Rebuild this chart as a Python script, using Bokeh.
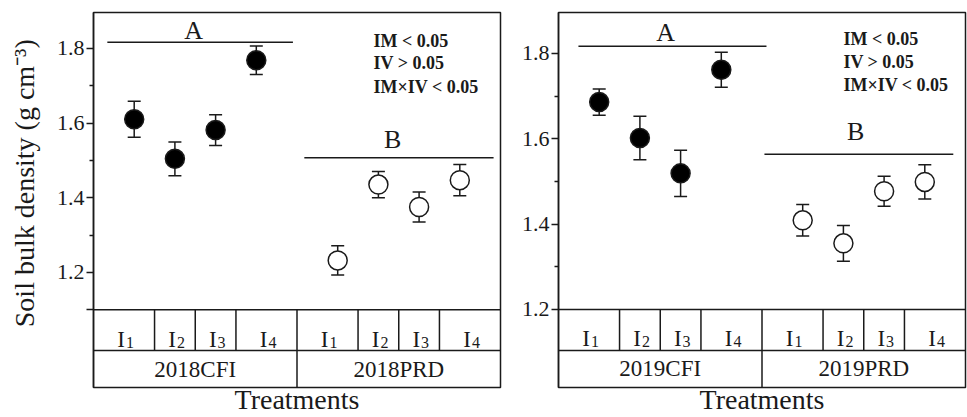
from bokeh.plotting import figure
from bokeh.layouts import row
from bokeh.models import Range1d, FixedTicker, Whisker, TeeHead, ColumnDataSource
from bokeh.core.properties import value
from bokeh.embed import file_html
from bokeh.resources import INLINE

FONT = "Liberation Serif"
INK = "#1a1a1a"

# ---------------- data ----------------
treatments = ["I", "I", "I", "I"]
treatment_subs = ["1", "2", "3", "4"]
groups_2018 = ["2018CFI", "2018PRD"]
groups_2019 = ["2019CFI", "2019PRD"]

bd_2018_cfi = [1.610, 1.504, 1.581, 1.768]
se_2018_cfi = [0.048, 0.045, 0.041, 0.038]
bd_2018_prd = [1.232, 1.435, 1.375, 1.447]
se_2018_prd = [0.039, 0.035, 0.040, 0.042]

bd_2019_cfi = [1.686, 1.602, 1.519, 1.762]
se_2019_cfi = [0.031, 0.051, 0.054, 0.041]
bd_2019_prd = [1.409, 1.355, 1.477, 1.499]
se_2019_prd = [0.037, 0.042, 0.035, 0.040]

letters = ["A", "B"]
stats_text = ["IM < 0.05", "IV > 0.05", "IM\u00d7IV < 0.05"]

# significance group line levels (data units)
sig_2018 = [1.816, 1.507]
sig_2019 = [1.817, 1.564]

y_label = "\u2003\u2009Soil bulk density (g cm\u207b\u00b3)"
x_label = "Treatments"


def make_panel(groups, cfi, cfi_se, prd, prd_se, sig, y_bottom, y_top, ppu,
               width, border_left, border_right, major, minor, show_ylabel,
               lines_x, letter_pos, stat_x, stat_y, tick_overrides):
    row1 = 41.0 / ppu
    row2 = 37.0 / ppu
    frame_bottom = y_bottom - row1 - row2
    p = figure(width=width, height=417, output_backend="svg", toolbar_location=None,
               x_range=Range1d(0, 10), y_range=Range1d(frame_bottom, y_top),
               min_border_left=border_left, min_border_right=border_right,
               min_border_top=12, min_border_bottom=30)
    p.background_fill_color = "white"
    p.border_fill_color = "white"
    p.outline_line_color = INK
    p.outline_line_width = 1.5
    p.xgrid.visible = False
    p.ygrid.visible = False

    # y axis
    ya = p.yaxis[0]
    ya.ticker = FixedTicker(ticks=major, minor_ticks=minor)
    ya.major_label_overrides = tick_overrides
    ya.major_label_text_font = FONT
    ya.major_label_text_font_size = "22px"
    ya.major_label_text_color = INK
    ya.major_label_standoff = 2
    ya.major_tick_out = 7
    ya.major_tick_in = 0
    ya.minor_tick_out = 4
    ya.minor_tick_in = 0
    ya.major_tick_line_color = INK
    ya.minor_tick_line_color = INK
    ya.major_tick_line_width = 1.5
    ya.minor_tick_line_width = 1.5
    ya.axis_line_color = INK
    ya.axis_line_width = 1.5
    if show_ylabel:
        ya.axis_label = y_label
        ya.axis_label_text_font = FONT
        ya.axis_label_text_font_size = "28px"
        ya.axis_label_text_font_style = "normal"
        ya.axis_label_text_color = INK
        ya.axis_label_standoff = 14

    # x axis (label only)
    xa = p.xaxis[0]
    xa.ticker = FixedTicker(ticks=[])
    xa.axis_line_color = None
    xa.major_tick_line_color = None
    xa.minor_tick_line_color = None
    xa.major_label_text_font_size = "0px"
    xa.major_label_standoff = 0
    xa.axis_label = x_label
    xa.axis_label_text_font = FONT
    xa.axis_label_text_font_size = "28px"
    xa.axis_label_text_font_style = "normal"
    xa.axis_label_text_color = INK
    xa.axis_label_standoff = -4

    # positions
    xs_cfi = [i + 1 for i in range(len(cfi))]
    xs_prd = [i + 6 for i in range(len(prd))]

    # error bars
    for xs, ys, es in ((xs_cfi, cfi, cfi_se), (xs_prd, prd, prd_se)):
        src = ColumnDataSource(dict(x=xs, upper=[a + b for a, b in zip(ys, es)],
                                    lower=[a - b for a, b in zip(ys, es)]))
        w = Whisker(base="x", upper="upper", lower="lower", source=src,
                    line_color=INK, line_width=1.5,
                    upper_head=TeeHead(size=13, line_color=INK, line_width=1.5),
                    lower_head=TeeHead(size=13, line_color=INK, line_width=1.5))
        p.add_layout(w)

    p.scatter(xs_cfi, cfi, marker="circle", size=19, fill_color="black",
              line_color=INK, line_width=1.5)
    p.scatter(xs_prd, prd, marker="circle", size=19, fill_color="white",
              line_color=INK, line_width=1.5)

    # significance lines + letters
    p.segment(x0=[lines_x[0][0], lines_x[1][0]], y0=sig,
              x1=[lines_x[0][1], lines_x[1][1]], y1=sig,
              line_color=INK, line_width=1.5)
    p.text(x=[letter_pos[0][0], letter_pos[1][0]], y=[letter_pos[0][1], letter_pos[1][1]],
           text=letters, text_font=value(FONT), text_font_size="26px",
           text_align="center", text_baseline="middle", text_color=INK)

    # stats
    p.text(x=[stat_x] * 3, y=stat_y, text=stats_text, text_font=value(FONT),
           text_font_size="18px", text_font_style="bold", text_align="left",
           text_baseline="middle", text_color=INK)

    # table
    bounds_all = []
    for g0 in (0, 5):
        xs = [g0 + i + 1 for i in range(4)]
        edges = [g0] + [(xs[i] + xs[i + 1]) / 2 for i in range(3)] + [g0 + 5]
        bounds_all.append(edges)
    y_r1 = y_bottom - row1
    p.segment(x0=[0, 0], y0=[y_bottom, y_r1], x1=[10, 10], y1=[y_bottom, y_r1],
              line_color=INK, line_width=1.5)
    inner = [e for edges in bounds_all for e in edges[1:-1]]
    p.segment(x0=inner, y0=[y_bottom] * len(inner), x1=inner, y1=[y_r1] * len(inner),
              line_color=INK, line_width=1.5)
    p.segment(x0=[5], y0=[y_bottom], x1=[5], y1=[frame_bottom],
              line_color=INK, line_width=1.5)
    centers = [(edges[i] + edges[i + 1]) / 2 for edges in bounds_all for i in range(4)]
    base1 = y_bottom - 29.5 / ppu
    p.text(x=centers, y=[base1] * 8, text=treatments * 2, text_font=value(FONT),
           text_font_size="23px", text_align="right", text_baseline="alphabetic",
           x_offset=1, text_color=INK)
    p.text(x=centers, y=[base1 - 3.0 / ppu] * 8, text=treatment_subs * 2,
           text_font=value(FONT), text_font_size="16px", text_align="left",
           text_baseline="alphabetic", x_offset=2, text_color=INK)
    p.text(x=[2.5, 7.5], y=[y_r1 - row2 / 2] * 2, text=groups, text_font=value(FONT),
           text_font_size="23px", text_align="center", text_baseline="middle",
           text_color=INK)
    return p


ppu_l = 374.3
p1 = make_panel(groups_2018, bd_2018_cfi, se_2018_cfi, bd_2018_prd, se_2018_prd, sig_2018,
                y_bottom=1.1, y_top=1.896, ppu=ppu_l, width=505, border_left=93,
                border_right=5, major=[1.1, 1.2, 1.4, 1.6, 1.8], minor=[1.3, 1.5, 1.7],
                show_ylabel=True,
                lines_x=[(0.34, 4.9), (5.18, 9.83)],
                letter_pos=[(2.46, 1.848), (7.35, 1.557)],
                stat_x=6.88, stat_y=[1.821, 1.760, 1.696],
                tick_overrides={1.1: ""})

ppu_r = 426.7
p2 = make_panel(groups_2019, bd_2019_cfi, se_2019_cfi, bd_2019_prd, se_2019_prd, sig_2019,
                y_bottom=1.2, y_top=1.896, ppu=ppu_r, width=462, border_left=53,
                border_right=2, major=[1.2, 1.4, 1.6, 1.8], minor=[1.3, 1.5, 1.7],
                show_ylabel=False,
                lines_x=[(0.49, 5.11), (5.06, 9.70)],
                letter_pos=[(2.63, 1.849), (7.3, 1.618)],
                stat_x=7.0, stat_y=[1.835, 1.779, 1.725],
                tick_overrides={})

layout = row(p1, p2)
open("out.html", "w").write(file_html(layout, INLINE))
